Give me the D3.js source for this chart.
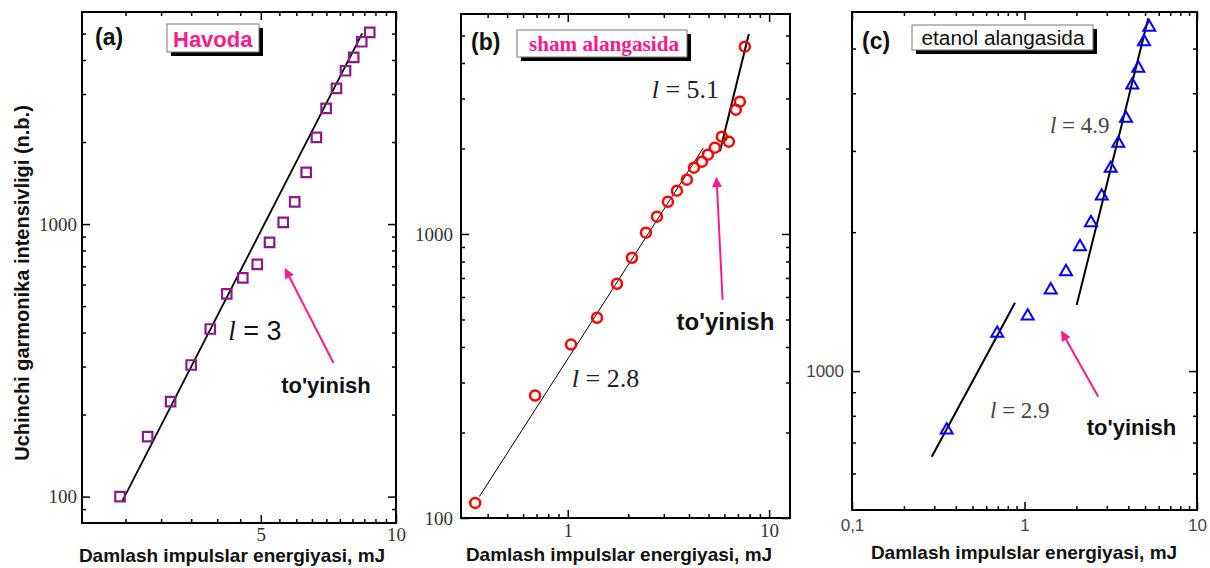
<!DOCTYPE html>
<html><head><meta charset="utf-8">
<script src="https://cdn.jsdelivr.net/npm/d3@7"></script>
<style>body{margin:0;background:#fff;} svg{display:block;}</style>
</head><body>
<svg id="chart" width="1210" height="568"></svg>
<script>
// ---------- data ----------
// (a) Havoda
const aEnergy    = [2.43,2.80,3.15,3.50,3.86,4.20,4.56,4.91,5.23,5.61,5.95,6.31,6.65,6.99,7.37,7.72,8.05,8.39,8.74];
const aIntensity = [100,166,223,304,412,554,635,711,857,1014,1207,1548,2080,2658,3148,3652,4090,4667,5051];
const aFitEnergy = [2.46, 8.41];
const aFitIntensity = [96.5, 5010];
// (b) sham alangasida
const bEnergy    = [0.347,0.688,1.038,1.397,1.756,2.084,2.446,2.773,3.145,3.485,3.906,4.232,4.637,4.966,5.379,5.828,6.312,6.837,7.155,7.578];
const bIntensity = [113,270,408,507,668,825,1011,1151,1299,1421,1553,1712,1797,1902,2013,2201,2113,2740,2923,4566];
const bFit1Energy = [0.364, 4.71];
const bFit1Intensity = [119, 2008];
const bFit2Energy = [5.70, 7.93];
const bFit2Intensity = [1954, 5060];
// (c) etanol alangasida
const cEnergy    = [0.354,0.695,1.044,1.419,1.740,2.097,2.429,2.803,3.161,3.498,3.876,4.216,4.568,4.929,5.29];
const cIntensity = [745,1207,1316,1499,1642,1860,2097,2395,2750,3116,3530,4169,4531,5173,5559];
const cFit1Energy = [0.290, 0.881];
const cFit1Intensity = [652, 1407];
const cFit2Energy = [2.007, 5.22];
const cFit2Intensity = [1391, 5813];

// tick values
const aXMajor = [5, 10];
const aXMinor = [2.5,3,3.5,4,4.5,5.5,6,6.5,7,7.5,8,8.5,9,9.5];
const aYMajor = [100, 1000];
const aYMinor = [90,200,300,400,500,600,700,800,900,2000,3000,4000,5000];
const bXMajor = [1, 10];
const bXMinor = [0.4,0.5,0.6,0.7,0.8,0.9,2,3,4,5,6,7,8,9];
const bYMajor = [100, 1000];
const bYMinor = [200,300,400,500,600,700,800,900,2000,3000,4000,5000];
const cXMajor = [0.1, 1, 10];
const cXLabels = ["0,1", "1", "10"];
const cXMinor = [0.2,0.3,0.4,0.5,0.6,0.7,0.8,0.9,2,3,4,5,6,7,8,9];
const cYMajor = [1000];
const cYMinor = [600,700,800,900,2000,3000,4000,5000];

// annotations (data coordinates)
const aSlopeLabel = {e: 4.23, i: 375, text: "3"};
const aSatLabel = {e: 5.55, i: 240};
const aArrow = {e0: 7.26, i0: 309, e1: 5.67, i1: 684};
const bSlope1 = {e: 1.047, i: 290, text: "2.8"};
const bSlope2 = {e: 2.61, i: 3012, text: "5.1"};
const bSatLabel = {e: 3.473, i: 460};
const bArrow = {e0: 5.874, i0: 587, e1: 5.484, i1: 1575};
const cSlope1 = {e: 0.631, i: 790, text: "2.9"};
const cSlope2 = {e: 1.405, i: 3275, text: "4.9"};
const cSatLabel = {e: 2.294, i: 727};
const cArrow = {e0: 2.678, i0: 880, e1: 1.643, i1: 1217};

// ---------- drawing ----------
const svg = d3.select("#chart");
const PINK = "#ff1a8c";
svg.append("defs").append("marker")
  .attr("id", "arrowhead").attr("viewBox", "0 0 10 10")
  .attr("refX", 9).attr("refY", 5)
  .attr("markerWidth", 6).attr("markerHeight", 5)
  .attr("markerUnits", "strokeWidth")
  .attr("orient", "auto")
  .append("path").attr("d", "M0,0 L10,5 L0,10 Z").attr("fill", PINK);

function drawAxes(g, x, y, cfg) {
  const within = (s, v, lo, hi) => { const p = s(v); return p > lo + 2 && p < hi - 2; };
  const xMin = cfg.xMinor.filter(v => within(x, v, cfg.left, cfg.right));
  const yMin = cfg.yMinor.filter(v => within(y, v, cfg.top, cfg.bottom));
  // bottom
  const b1 = g.append("g").attr("transform", `translate(0,${cfg.bottom})`)
    .call(d3.axisBottom(x).tickValues(cfg.xMajor).tickSize(-8).tickPadding(cfg.xPad)
      .tickFormat((d, i) => cfg.xLabels ? cfg.xLabels[i] : d3.format("")(d)));
  b1.attr("font-family", cfg.tickFont).attr("font-size", cfg.tickSize);
  b1.selectAll("text").attr("fill", cfg.tickColor);
  const b2 = g.append("g").attr("transform", `translate(0,${cfg.bottom})`)
    .call(d3.axisBottom(x).tickValues(xMin).tickSize(-4).tickFormat(""));
  // top
  const t1 = g.append("g").attr("transform", `translate(0,${cfg.top})`)
    .call(d3.axisTop(x).tickValues(cfg.xMajor).tickSize(-8).tickFormat(""));
  const t2 = g.append("g").attr("transform", `translate(0,${cfg.top})`)
    .call(d3.axisTop(x).tickValues(xMin).tickSize(-4).tickFormat(""));
  // left
  const l1 = g.append("g").attr("transform", `translate(${cfg.left},0)`)
    .call(d3.axisLeft(y).tickValues(cfg.yMajor).tickSize(-8).tickPadding(cfg.yPad)
      .tickFormat(d3.format("")));
  l1.attr("font-family", cfg.tickFont).attr("font-size", cfg.tickSize);
  l1.selectAll("text").attr("fill", cfg.tickColor);
  const l2 = g.append("g").attr("transform", `translate(${cfg.left},0)`)
    .call(d3.axisLeft(y).tickValues(yMin).tickSize(-4).tickFormat(""));
  // right
  const r1 = g.append("g").attr("transform", `translate(${cfg.right},0)`)
    .call(d3.axisRight(y).tickValues(cfg.yMajor).tickSize(-8).tickFormat(""));
  const r2 = g.append("g").attr("transform", `translate(${cfg.right},0)`)
    .call(d3.axisRight(y).tickValues(yMin).tickSize(-4).tickFormat(""));
  [b1,b2,t1,t2,l1,l2,r1,r2].forEach(a => {
    a.select(".domain").remove();
    a.selectAll("line").attr("stroke-width", 1.5);
  });
  g.append("rect").attr("x", cfg.left).attr("y", cfg.top)
    .attr("width", cfg.right - cfg.left).attr("height", cfg.bottom - cfg.top)
    .attr("fill", "none").attr("stroke", "#000").attr("stroke-width", 2);
}

function legendBox(g, bx, by, bw, bh) {
  g.append("rect").attr("x", bx + 4).attr("y", by + 4).attr("width", bw).attr("height", bh).attr("fill", "#000");
  g.append("rect").attr("x", bx).attr("y", by).attr("width", bw).attr("height", bh)
    .attr("fill", "#fff").attr("stroke", "#777").attr("stroke-width", 1);
}

function fitLine(g, x, y, es, is, w) {
  g.append("line").attr("x1", x(es[0])).attr("y1", y(is[0]))
    .attr("x2", x(es[1])).attr("y2", y(is[1]))
    .attr("stroke", "#000").attr("stroke-width", w);
}

function arrow(g, x, y, a) {
  g.append("line").attr("x1", x(a.e0)).attr("y1", y(a.i0))
    .attr("x2", x(a.e1)).attr("y2", y(a.i1))
    .attr("stroke", PINK).attr("stroke-width", 2)
    .attr("marker-end", "url(#arrowhead)");
}

function slopeText(g, x, y, s, size, color, serifNum) {
  const t = g.append("text").attr("x", x(s.e)).attr("y", y(s.i))
    .attr("font-size", size).attr("fill", color);
  t.append("tspan").attr("font-family", "Liberation Serif, Times New Roman, serif")
    .attr("font-style", "italic").text("l");
  t.append("tspan").attr("font-family", serifNum ? "Liberation Serif, Times New Roman, serif" : "Liberation Sans, Arial, sans-serif")
    .text(" = " + s.text);
}

function satText(g, x, y, s, size) {
  g.append("text").attr("x", x(s.e)).attr("y", y(s.i))
    .attr("font-family", "Liberation Sans, Arial, sans-serif").attr("font-weight", "bold")
    .attr("font-size", size).attr("fill", "#111").text("to'yinish");
}

function xTitle(cx, by) {
  svg.append("text").attr("x", cx).attr("y", by).attr("text-anchor", "middle")
    .attr("font-family", "Liberation Sans, Arial, sans-serif").attr("font-weight", "bold")
    .attr("font-size", 19).attr("fill", "#111").text("Damlash impulslar energiyasi, mJ");
}

// ----- panel (a) -----
{
  const cfg = {left: 82, right: 396, top: 12, bottom: 523, xDomain: [2, 10], yDomain: [80, 6000],
    xMajor: aXMajor, xMinor: aXMinor, yMajor: aYMajor, yMinor: aYMinor,
    tickFont: "Liberation Serif, Times New Roman, serif", tickSize: 19, tickColor: "#333", xPad: 5, yPad: 5};
  const g = svg.append("g");
  const x = d3.scaleLog().domain(cfg.xDomain).range([cfg.left, cfg.right]);
  const y = d3.scaleLog().domain(cfg.yDomain).range([cfg.bottom, cfg.top]);
  drawAxes(g, x, y, cfg);
  fitLine(g, x, y, aFitEnergy, aFitIntensity, 1.8);
  g.selectAll("path.pt").data(d3.zip(aEnergy, aIntensity)).join("path")
    .attr("d", d3.symbol(d3.symbolSquare, 90))
    .attr("transform", d => `translate(${x(d[0])},${y(d[1])})`)
    .attr("fill", "none").attr("stroke", "#8b1a8b").attr("stroke-width", 2.2);
  arrow(g, x, y, aArrow);
  slopeText(g, x, y, aSlopeLabel, 27, "#111", false);
  satText(g, x, y, aSatLabel, 22);
  g.append("text").attr("x", 95).attr("y", 45).attr("font-family", "Liberation Sans, Arial, sans-serif")
    .attr("font-weight", "bold").attr("font-size", 23).attr("fill", "#111").text("(a)");
  legendBox(g, 167, 24, 92, 28);
  g.append("text").attr("x", 173).attr("y", 46.5).attr("font-family", "Liberation Sans, Arial, sans-serif")
    .attr("font-weight", "bold").attr("font-size", 22).attr("fill", PINK).text("Havoda");
  xTitle(232, 562);
}

// ----- panel (b) -----
{
  const cfg = {left: 461, right: 790, top: 14, bottom: 518, xDomain: [0.295, 12.7], yDomain: [100, 5950],
    xMajor: bXMajor, xMinor: bXMinor, yMajor: bYMajor, yMinor: bYMinor,
    tickFont: "Liberation Serif, Times New Roman, serif", tickSize: 19, tickColor: "#333", xPad: 6, yPad: 8};
  const g = svg.append("g");
  const x = d3.scaleLog().domain(cfg.xDomain).range([cfg.left, cfg.right]);
  const y = d3.scaleLog().domain(cfg.yDomain).range([cfg.bottom, cfg.top]);
  drawAxes(g, x, y, cfg);
  fitLine(g, x, y, bFit1Energy, bFit1Intensity, 1);
  fitLine(g, x, y, bFit2Energy, bFit2Intensity, 2);
  g.selectAll("circle.pt").data(d3.zip(bEnergy, bIntensity)).join("circle")
    .attr("cx", d => x(d[0])).attr("cy", d => y(d[1])).attr("r", 5)
    .attr("fill", "none").attr("stroke", "#ff0000").attr("stroke-width", 2.5);
  arrow(g, x, y, bArrow);
  slopeText(g, x, y, bSlope1, 26, "#222", true);
  slopeText(g, x, y, bSlope2, 26, "#222", true);
  satText(g, x, y, bSatLabel, 24);
  g.append("text").attr("x", 471).attr("y", 50).attr("font-family", "Liberation Sans, Arial, sans-serif")
    .attr("font-weight", "bold").attr("font-size", 23).attr("fill", "#111").text("(b)");
  legendBox(g, 517, 30, 170, 27);
  g.append("text").attr("x", 529).attr("y", 50.5).attr("font-family", "Liberation Serif, Times New Roman, serif")
    .attr("font-weight", "bold").attr("font-size", 21).attr("fill", PINK)
    .attr("textLength", 150).attr("lengthAdjust", "spacingAndGlyphs").text("sham alangasida");
  xTitle(619, 561);
}

// ----- panel (c) -----
{
  const cfg = {left: 852, right: 1197, top: 12, bottom: 510, xDomain: [0.1, 10], yDomain: [500, 6000],
    xMajor: cXMajor, xLabels: cXLabels, xMinor: cXMinor, yMajor: cYMajor, yMinor: cYMinor,
    tickFont: "Liberation Sans, Arial, sans-serif", tickSize: 17, tickColor: "#444", xPad: 9, yPad: 8};
  const g = svg.append("g");
  const x = d3.scaleLog().domain(cfg.xDomain).range([cfg.left, cfg.right]);
  const y = d3.scaleLog().domain(cfg.yDomain).range([cfg.bottom, cfg.top]);
  drawAxes(g, x, y, cfg);
  fitLine(g, x, y, cFit1Energy, cFit1Intensity, 2);
  fitLine(g, x, y, cFit2Energy, cFit2Intensity, 2);
  g.selectAll("path.pt").data(d3.zip(cEnergy, cIntensity)).join("path")
    .attr("d", d3.symbol(d3.symbolTriangle, 62))
    .attr("transform", d => `translate(${x(d[0])},${y(d[1])})`)
    .attr("fill", "none").attr("stroke", "#0000ff").attr("stroke-width", 2);
  arrow(g, x, y, cArrow);
  slopeText(g, x, y, cSlope1, 23, "#444", true);
  slopeText(g, x, y, cSlope2, 23, "#444", true);
  satText(g, x, y, cSatLabel, 22);
  g.append("text").attr("x", 862).attr("y", 49).attr("font-family", "Liberation Sans, Arial, sans-serif")
    .attr("font-weight", "bold").attr("font-size", 23).attr("fill", "#111").text("(c)");
  legendBox(g, 912, 25, 181, 25);
  g.append("text").attr("x", 921.5).attr("y", 45).attr("font-family", "Liberation Sans, Arial, sans-serif")
    .attr("font-size", 20).attr("fill", "#111")
    .attr("textLength", 163).attr("lengthAdjust", "spacingAndGlyphs").text("etanol alangasida");
  xTitle(1024, 559);
}

// shared y title
svg.append("text").attr("transform", "translate(29,283) rotate(-90)")
  .attr("text-anchor", "middle").attr("font-family", "Liberation Sans, Arial, sans-serif")
  .attr("font-weight", "bold").attr("font-size", 20).attr("fill", "#111")
  .text("Uchinchi garmonika intensivligi (n.b.)");
</script>
</body></html>
